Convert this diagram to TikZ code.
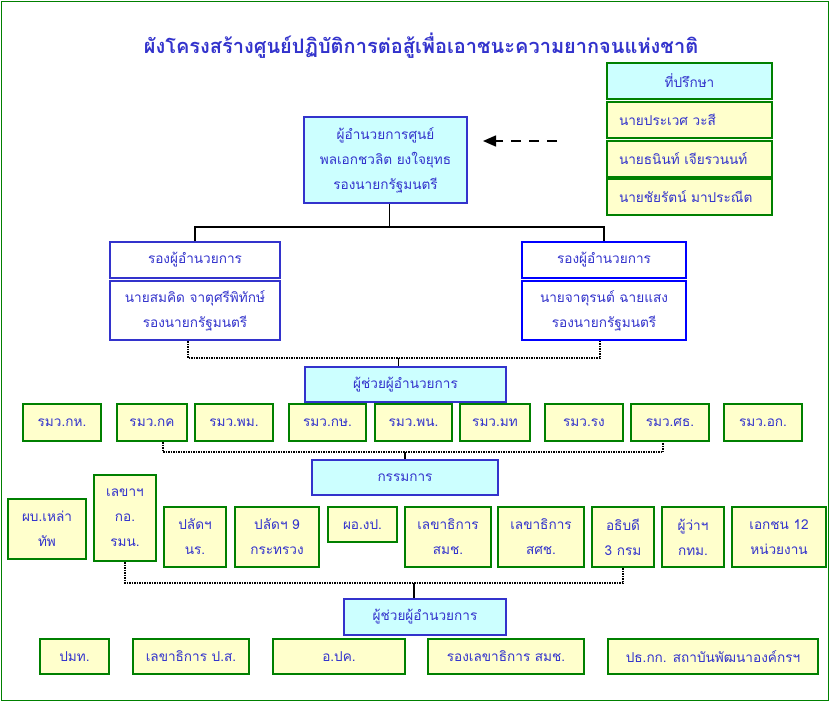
\documentclass[tikz,border=0pt]{standalone}
\usepackage{fontspec}
\setmainfont{Loma}[Script=Thai]
\usepackage{tikz}
\usetikzlibrary{arrows.meta}

\definecolor{boxcyan}{HTML}{CCFFFF}
\definecolor{boxyellow}{HTML}{FFFFCC}
\definecolor{framegreen}{HTML}{008000}
\definecolor{lineblue}{HTML}{3333CC}
\definecolor{brightblue}{HTML}{0000FF}
\definecolor{txtblue}{HTML}{3333CC}

\tikzset{
    box/.style={draw, line width=2pt, align=center, inner sep=2pt,
        text=txtblue, font=\fontsize{13.6}{25}\selectfont},
    headbox/.style={box, fill=boxcyan, draw=lineblue},
    deputybox/.style={box, fill=white, draw=lineblue},
    ybox/.style={box, fill=boxyellow, draw=framegreen},
    conn/.style={draw=black, line width=1.5pt},
    dotconn/.style={draw=black, line width=1.5pt, densely dotted},
}

\begin{document}
\begin{tikzpicture}[x=1pt, y=-1pt]
        \useasboundingbox (0,0) rectangle (835,702);
        \draw[framegreen, line width=1pt] (1.5,1.5) rectangle (828,700); % frame

        % title
        \node[text=txtblue, font=\fontsize{20}{24}\bfseries\selectfont] (title) at (421,46)
            {ผังโครงสร้างศูนย์ปฏิบัติการต่อสู้เพื่อเอาชนะความยากจนแห่งชาติ};

        % advisers
        \node[box, fill=boxcyan, draw=framegreen, minimum width=165, minimum height=36] (adv) at (689.5,81) {ที่ปรึกษา};
        \node[ybox, minimum width=165, minimum height=36, text width=141, align=left] (adv1) at (689.5,120) {นายประเวศ วะสี};
        \node[ybox, minimum width=165, minimum height=36, text width=141, align=left] (adv2) at (689.5,159) {นายธนินท์ เจียรวนนท์};
        \node[ybox, minimum width=165, minimum height=36, text width=141, align=left] (adv3) at (689.5,197) {นายชัยรัตน์ มาประณีต};
        \coordinate (advtail) at (557,141);
        \coordinate (advhead) at (483,141);
        \draw[conn, dashed, dash pattern=on 10pt off 8pt, -{Triangle[length=13pt,width=11pt]}] (advtail) -- (advhead);

        % director
        \node[headbox, minimum width=163, minimum height=86] (dir) at (385.5,160)
            {ผู้อำนวยการศูนย์\\พลเอกชวลิต ยงใจยุทธ\\รองนายกรัฐมนตรี};

        % deputies
        \node[deputybox, minimum width=170, minimum height=36] (dep1) at (195,260) {รองผู้อำนวยการ};
        \node[deputybox, minimum width=170, minimum height=59] (dep1b) at (195,310.5)
            {นายสมคิด จาตุศรีพิทักษ์\\รองนายกรัฐมนตรี};
        \node[deputybox, draw=brightblue, minimum width=164, minimum height=36] (dep2) at (604,260) {รองผู้อำนวยการ};
        \node[deputybox, draw=brightblue, minimum width=164, minimum height=59] (dep2b) at (604,310.5)
            {นายจาตุรนต์ ฉายแสง\\รองนายกรัฐมนตรี};

        \coordinate (topbar) at (0,227);
        \coordinate (dirdown) at ([xshift=4pt]dir.south);
        \draw[conn] (dirdown) -- (dirdown |- topbar);
        \draw[conn] (dep1.north) |- (topbar -| dep2.north) -- (dep2.north);

        % assistants 1
        \node[headbox, minimum width=201, minimum height=35] (asst) at (405.5,384.5) {ผู้ช่วยผู้อำนวยการ};
        \coordinate (midbar) at (0,358);
        \coordinate (dep1down) at ([xshift=-7pt]dep1b.south);
        \coordinate (dep2down) at ([xshift=-4pt]dep2b.south);
        \coordinate (asstup) at ([xshift=-7pt]asst.north);
        \draw[dotconn] (dep1down) |- (midbar -| dep2down) -- (dep2down);
        \draw[conn] (asstup) -- (asstup |- midbar);

        % ministers
        \node[ybox, minimum width=78, minimum height=37] (rmv1) at (62,422.5) {รมว.กห.};
        \node[ybox, minimum width=70, minimum height=37] (rmv2) at (152,422.5) {รมว.กค};
        \node[ybox, minimum width=78, minimum height=37] (rmv3) at (234,422.5) {รมว.พม.};
        \node[ybox, minimum width=77, minimum height=37] (rmv4) at (327.5,422.5) {รมว.กษ.};
        \node[ybox, minimum width=77, minimum height=37] (rmv5) at (413.5,422.5) {รมว.พน.};
        \node[ybox, minimum width=70, minimum height=37] (rmv6) at (495,422.5) {รมว.มท};
        \node[ybox, minimum width=78, minimum height=37] (rmv7) at (584,422.5) {รมว.รง};
        \node[ybox, minimum width=78, minimum height=37] (rmv8) at (670,422.5) {รมว.ศธ.};
        \node[ybox, minimum width=78, minimum height=37] (rmv9) at (763,422.5) {รมว.อก.};

        % committee
        \node[headbox, minimum width=186, minimum height=35] (com) at (405,477.5) {กรรมการ};
        \coordinate (minbar) at (0,452);
        \coordinate (rmv2down) at ([xshift=11pt]rmv2.south);
        \coordinate (rmv8down) at ([xshift=-7pt]rmv8.south);
        \draw[dotconn] (rmv2down) |- (minbar -| rmv8down) -- (rmv8down);
        \draw[conn] (com.north) -- (com.north |- minbar);

        \node[ybox, minimum width=78, minimum height=60] (cm1) at (47,529) {ผบ.เหล่า\\ทัพ};
        \node[ybox, minimum width=62, minimum height=86] (cm2) at (125,518) {เลขาฯ\\กอ.\\รมน.};
        \node[ybox, minimum width=62, minimum height=60] (cm3) at (195,537) {ปลัดฯ\\นร.};
        \node[ybox, minimum width=84, minimum height=60] (cm4) at (277,537) {ปลัดฯ 9\\กระทรวง};
        \node[ybox, minimum width=69, minimum height=35] (cm5) at (362.5,524.5) {ผอ.งป.};
        \node[ybox, minimum width=86, minimum height=60] (cm6) at (448,537) {เลขาธิการ\\สมช.};
        \node[ybox, minimum width=86, minimum height=60] (cm7) at (541,537) {เลขาธิการ\\สศช.};
        \node[ybox, minimum width=62, minimum height=60] (cm8) at (623,537) {อธิบดี\\3 กรม};
        \node[ybox, minimum width=62, minimum height=60] (cm9) at (693,537) {ผู้ว่าฯ\\กทม.};
        \node[ybox, minimum width=94, minimum height=60] (cm10) at (779,537) {เอกชน 12\\หน่วยงาน};

        % assistants 2
        \node[headbox, minimum width=162, minimum height=36] (asst2) at (425,617) {ผู้ช่วยผู้อำนวยการ};
        \coordinate (combar) at (0,583);
        \coordinate (asst2up) at ([xshift=-11pt]asst2.north);
        \draw[dotconn] (cm2.south) |- (combar -| cm8.south) -- (cm8.south);
        \draw[conn] (asst2up) -- (asst2up |- combar);

        \node[ybox, minimum width=69, minimum height=35] (bt1) at (74.5,656.5) {ปมท.};
        \node[ybox, minimum width=116, minimum height=35] (bt2) at (191,656.5) {เลขาธิการ ป.ส.};
        \node[ybox, minimum width=132, minimum height=35] (bt3) at (339,656.5) {อ.ปค.};
        \node[ybox, minimum width=156, minimum height=35] (bt4) at (506,656.5) {รองเลขาธิการ สมช.};
        \node[ybox, minimum width=210, minimum height=35] (bt5) at (713,656.5) {ปธ.กก. สถาบันพัฒนาองค์กรฯ};

    \end{tikzpicture}
\end{document}
